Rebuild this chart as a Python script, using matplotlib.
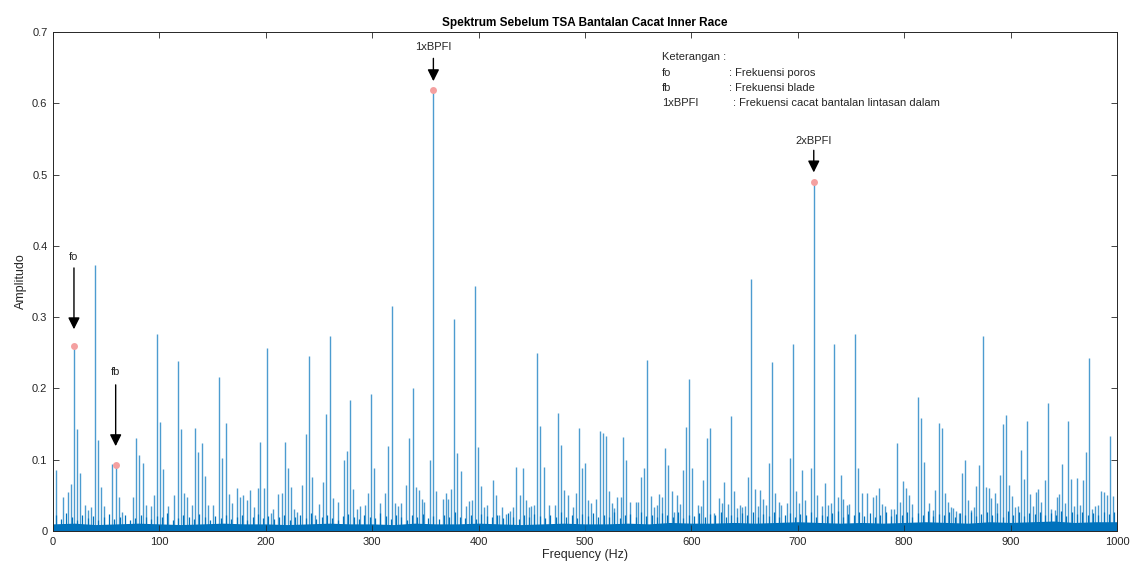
import numpy as np
import matplotlib
matplotlib.use('agg')
import matplotlib.pyplot as plt

plt.rcParams['font.family'] = ['Liberation Sans', 'DejaVu Sans']

# spectral lines (Hz, amplitude)
peak_freq = [3, 9, 13.8, 17, 19.7, 22.6, 25.7, 30, 32.6, 36, 39.2, 42.3, 45, 48,
             55.7, 58.9, 61.7, 64.5, 75.2, 78, 81, 84.3, 87.4, 91.8, 94.6, 97.4,
             100.6, 103.7, 108.4, 114, 117.5, 120.3, 123.4, 126.2, 131, 133.5,
             136.6, 139.7, 142.6, 145.7, 150, 156.3, 159, 162.3, 165.4, 168.5,
             172.6, 175.8, 178.9, 182, 185, 189, 192.4, 195, 198, 201, 204.6,
             207, 211.7, 215, 217.8, 220.9, 223.7, 226.8, 229.6, 234.3, 237.5,
             240.3, 243.4, 246, 249.7, 253.8, 256.6, 260, 262.9, 267.6, 273.5,
             276.3, 279.4, 282.2, 285.4, 288.5, 292.9, 295.8, 298.9, 302, 307.3,
             312.3, 315.1, 318.3, 321.4, 324.5, 327.4, 331.8, 334.9, 338, 341.2,
             344, 346.8, 348.4, 354.3, 357.5, 360.3, 366.3, 369, 371, 374,
             376.9, 380, 383.2, 387.9, 390.7, 393.5, 396.3, 399.4, 402.5, 405.4,
             407.6, 413.2, 416.4, 419.5, 422, 425.4, 429.5, 432.6, 435.4, 438.6,
             441.4, 444.5, 447.4, 449.2, 452, 454.9, 458, 461.2, 466.5, 471.5,
             474.6, 477.4, 480.5, 483.7, 488.4, 491.2, 494, 497.2, 500.3, 503,
             505.3, 510.6, 513.8, 516.6, 519.7, 522.6, 525.7, 527.5, 530, 534,
             536, 539, 542.3, 547.6, 549.8, 552.6, 555.5, 558.6, 561.7, 564.8,
             567.7, 569.5, 572.4, 575.2, 578.3, 581.5, 583.3, 586.5, 589.3,
             591.8, 594.6, 597.7, 600.6, 605.9, 608.7, 611.2, 614.3, 617.2,
             621.2, 625.5, 628.5, 630.9, 634, 636.9, 639.7, 642.6, 645.4, 647.8,
             650.4, 653.5, 656.3, 659.4, 662.3, 664.8, 667, 669.8, 672.9, 675.8,
             678.9, 682, 684.2, 689.5, 692.4, 695.5, 698.3, 701.1, 703.9, 706.8,
             712.1, 715, 717.9, 723.2, 726, 728.6, 731.4, 734.3, 737.4, 740.3,
             742.8, 745.9, 748.1, 753.8, 756.9, 760, 764.7, 770.3, 773.2, 776.3,
             779.4, 781.7, 787.3, 790.4, 792.9, 796, 798.9, 801.4, 804.2, 807,
             812.6, 815.5, 818.6, 823.6, 826.8, 829.2, 832.4, 835.2, 838, 840.8,
             843.6, 846, 848.8, 851.3, 854.4, 857.3, 860.1, 863.2, 865.6, 867.8,
             870.6, 873.7, 876.8, 879.6, 881.8, 884.9, 887.4, 889.8, 893, 896.1,
             898.9, 901.4, 904.5, 907, 909.4, 912.6, 915.4, 918.5, 921.3, 923.8,
             926.2, 929, 931.9, 935, 938.2, 941.3, 943.5, 945.6, 948.2, 951.2,
             954, 956.9, 959.8, 962.6, 965, 967.8, 971, 973.7, 976.2, 979, 982.1,
             984.9, 987.4, 990.3, 993, 996.2]
peak_amp = [0.085, 0.048, 0.055, 0.066, 0.26, 0.143, 0.081, 0.036, 0.030, 0.033,
            0.373, 0.127, 0.062, 0.035, 0.094, 0.092, 0.048, 0.027, 0.048, 0.130,
            0.106, 0.095, 0.036, 0.035, 0.050, 0.277, 0.153, 0.087, 0.035, 0.050,
            0.239, 0.143, 0.053, 0.048, 0.037, 0.145, 0.111, 0.123, 0.077, 0.037,
            0.036, 0.216, 0.102, 0.152, 0.052, 0.039, 0.060, 0.048, 0.050, 0.044,
            0.058, 0.033, 0.060, 0.125, 0.060, 0.257, 0.025, 0.031, 0.052, 0.054,
            0.125, 0.088, 0.062, 0.031, 0.027, 0.065, 0.136, 0.246, 0.076, 0.022,
            0.038, 0.069, 0.164, 0.273, 0.046, 0.040, 0.100, 0.112, 0.184, 0.059,
            0.031, 0.035, 0.037, 0.053, 0.192, 0.089, 0.039, 0.053, 0.119, 0.316,
            0.039, 0.035, 0.039, 0.064, 0.130, 0.200, 0.062, 0.057, 0.045, 0.040,
            0.099, 0.619, 0.056, 0.045, 0.053, 0.045, 0.059, 0.298, 0.109, 0.084,
            0.035, 0.042, 0.043, 0.344, 0.118, 0.063, 0.033, 0.036, 0.072, 0.050,
            0.023, 0.033, 0.024, 0.028, 0.033, 0.090, 0.050, 0.088, 0.044, 0.033,
            0.035, 0.037, 0.249, 0.147, 0.090, 0.036, 0.036, 0.166, 0.121, 0.058,
            0.050, 0.033, 0.053, 0.144, 0.089, 0.096, 0.044, 0.039, 0.045, 0.140,
            0.137, 0.133, 0.056, 0.039, 0.032, 0.047, 0.048, 0.132, 0.100, 0.041,
            0.040, 0.041, 0.076, 0.089, 0.240, 0.049, 0.033, 0.037, 0.052, 0.048,
            0.117, 0.092, 0.056, 0.027, 0.050, 0.038, 0.086, 0.146, 0.213, 0.089,
            0.037, 0.035, 0.071, 0.130, 0.145, 0.025, 0.046, 0.039, 0.069, 0.038,
            0.161, 0.056, 0.032, 0.036, 0.034, 0.035, 0.076, 0.353, 0.059, 0.035,
            0.057, 0.045, 0.036, 0.095, 0.237, 0.053, 0.041, 0.036, 0.039, 0.103,
            0.262, 0.056, 0.039, 0.086, 0.043, 0.089, 0.489, 0.050, 0.035, 0.067,
            0.036, 0.039, 0.263, 0.048, 0.079, 0.045, 0.037, 0.038, 0.276, 0.088,
            0.053, 0.053, 0.047, 0.050, 0.060, 0.038, 0.035, 0.031, 0.031, 0.123,
            0.041, 0.070, 0.060, 0.050, 0.038, 0.188, 0.158, 0.097, 0.039, 0.030,
            0.058, 0.152, 0.145, 0.054, 0.040, 0.033, 0.032, 0.028, 0.025, 0.082,
            0.100, 0.044, 0.030, 0.034, 0.063, 0.093, 0.273, 0.062, 0.061, 0.046,
            0.054, 0.039, 0.079, 0.150, 0.163, 0.064, 0.049, 0.034, 0.035, 0.114,
            0.073, 0.155, 0.052, 0.035, 0.055, 0.059, 0.040, 0.071, 0.180, 0.031,
            0.030, 0.048, 0.052, 0.094, 0.039, 0.154, 0.073, 0.035, 0.075, 0.036,
            0.072, 0.111, 0.243, 0.031, 0.035, 0.037, 0.056, 0.055, 0.050, 0.133,
            0.049]

# noise floor height, every 20 Hz
floor_freq = list(range(0, 1001, 20))
floor_amp = [0.010, 0.011, 0.009, 0.010, 0.011, 0.010, 0.009, 0.010, 0.011, 0.010,
             0.010, 0.009, 0.010, 0.011, 0.010, 0.010, 0.009, 0.011, 0.010, 0.010,
             0.011, 0.010, 0.009, 0.010, 0.011, 0.010, 0.010, 0.011, 0.010, 0.012,
             0.011, 0.011, 0.012, 0.011, 0.012, 0.013, 0.012, 0.011, 0.012, 0.011,
             0.012, 0.013, 0.012, 0.011, 0.013, 0.012, 0.013, 0.014, 0.012, 0.013,
             0.013]

# small spikes sticking out of the floor, one per 5 Hz slot (starting at 2.5 Hz)
spike_amp = [0.022, 0.017, 0.025, 0.019, 0.016, 0.023, 0.018, 0.021, 0.015, 0.020,
             0.024, 0.017, 0.019, 0.022, 0.016, 0.018, 0.023, 0.020, 0.017, 0.021,
             0.019, 0.025, 0.016, 0.018, 0.022, 0.020, 0.017, 0.024, 0.019, 0.016,
             0.021, 0.018, 0.023, 0.017, 0.020, 0.022, 0.016, 0.019, 0.024, 0.018,
             0.021, 0.017, 0.020, 0.023, 0.016, 0.019, 0.022, 0.018, 0.025, 0.017,
             0.020, 0.023, 0.018, 0.016, 0.021, 0.024, 0.019, 0.017, 0.022, 0.020,
             0.018, 0.025, 0.021, 0.017, 0.023, 0.019, 0.016, 0.022, 0.020, 0.024,
             0.018, 0.021, 0.017, 0.023, 0.019, 0.026, 0.020, 0.018, 0.022, 0.017,
             0.024, 0.021, 0.019, 0.023, 0.018, 0.025, 0.020, 0.017, 0.022, 0.019,
             0.024, 0.021, 0.018, 0.023, 0.020, 0.026, 0.019, 0.022, 0.018, 0.024,
             0.021, 0.025, 0.019, 0.023, 0.020, 0.027, 0.018, 0.022, 0.024, 0.019,
             0.026, 0.021, 0.023, 0.019, 0.025, 0.022, 0.020, 0.027, 0.018, 0.023,
             0.021, 0.025, 0.019, 0.024, 0.022, 0.026, 0.020, 0.023, 0.019, 0.025,
             0.022, 0.027, 0.020, 0.024, 0.021, 0.026, 0.019, 0.023, 0.025, 0.020,
             0.024, 0.022, 0.026, 0.019, 0.023, 0.021, 0.025, 0.028, 0.020, 0.024,
             0.022, 0.026, 0.021, 0.025, 0.019, 0.023, 0.027, 0.021, 0.024, 0.022,
             0.026, 0.020, 0.025, 0.023, 0.028, 0.021, 0.024, 0.022, 0.026, 0.020,
             0.025, 0.023, 0.027, 0.021, 0.024, 0.026, 0.022, 0.025, 0.020, 0.028,
             0.023, 0.026, 0.021, 0.025, 0.024, 0.027, 0.022, 0.025, 0.023, 0.028,
             0.021, 0.026, 0.024, 0.027, 0.022, 0.025, 0.023, 0.026, 0.024, 0.027]
spike_freq = [2.5 + 5 * i for i in range(len(spike_amp))]

marked_f = [19.7, 58.9, 357.5, 715]
marked_a = [0.26, 0.092, 0.619, 0.489]
labels = ['fo', 'fb', '1xBPFI', '2xBPFI']
label_y = [0.384, 0.223, 0.679, 0.547]
arrow_top = [0.369, 0.205, 0.663, 0.534]
arrow_tip = [0.283, 0.119, 0.631, 0.503]

blue = '#0072BD'

fig = plt.figure(figsize=(11.39, 5.70), dpi=100)
ax = fig.add_axes([53 / 1139, 1 - 531 / 570, 1064 / 1139, 499 / 570])

ax.fill_between(floor_freq, 0, floor_amp, color=blue, lw=0)
ax.vlines(spike_freq, 0, spike_amp, color=blue, lw=0.9)
ax.vlines(peak_freq, 0, peak_amp, color=blue, lw=1.0, alpha=0.7)
ax.plot(marked_f, marked_a, 'o', color='#F4A0A0', ms=5, mec='none', zorder=5)

for f, lab, ly, at, tip in zip(marked_f, labels, label_y, arrow_top, arrow_tip):
    ax.text(f, ly, lab, ha='center', va='center', fontsize=8, color='#262626')
    ax.annotate('', xy=(f, tip), xytext=(f, at),
                arrowprops=dict(arrowstyle='-|>,head_length=0.7,head_width=0.35',
                                color='black', lw=1.0, shrinkA=0, shrinkB=0))

legend_rows = [('fo', ': Frekuensi poros', 635.3),
               ('fb', ': Frekuensi blade', 635.3),
               ('1xBPFI', ': Frekuensi cacat bantalan lintasan dalam', 639)]
ax.text(572.4, 0.665, 'Keterangan :', fontsize=8, va='center', color='#262626')
for (k, desc, xd), yy in zip(legend_rows, [0.642, 0.621, 0.600]):
    ax.text(572.4, yy, k, fontsize=8, va='center', color='#262626')
    ax.text(xd, yy, desc, fontsize=8, va='center', color='#262626')

ax.set_xlim(0, 1000)
ax.set_ylim(0, 0.7)
ax.set_xticks(np.arange(0, 1001, 100))
ax.set_yticks(np.arange(0, 0.71, 0.1))
ax.set_yticklabels(['0', '0.1', '0.2', '0.3', '0.4', '0.5', '0.6', '0.7'])
ax.tick_params(direction='in', top=True, right=True, length=4, width=0.6,
               labelsize=8, colors='#262626', pad=4)
for s in ax.spines.values():
    s.set_linewidth(0.7)
    s.set_color('#262626')

ax.set_title('Spektrum Sebelum TSA Bantalan Cacat Inner Race', fontsize=8.5,
             fontweight='bold', pad=4)
ax.set_xlabel('Frequency (Hz)', fontsize=9, color='#262626', labelpad=2)
ax.set_ylabel('Amplitudo', fontsize=9, color='#262626', labelpad=4)

fig.savefig('out.png', dpi=100)
